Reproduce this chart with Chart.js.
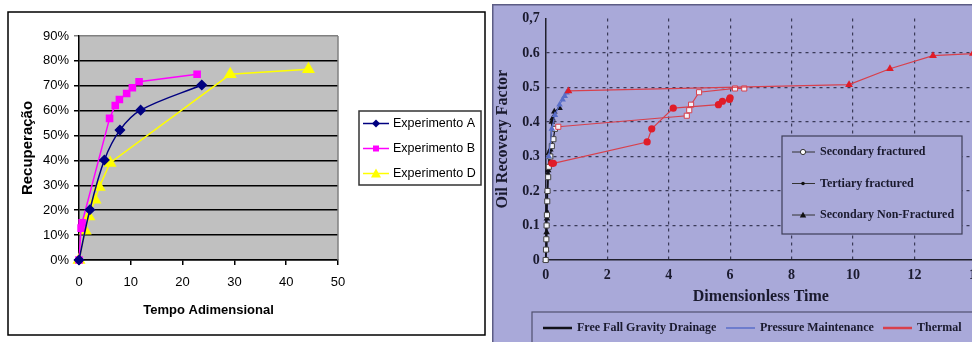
<!DOCTYPE html>
<html>
<head>
<meta charset="utf-8">
<script src="https://cdn.jsdelivr.net/npm/chart.js@4.4.1/dist/chart.umd.min.js"></script>
<style>
  html, body { margin: 0; padding: 0; background: #fff; overflow: hidden; width: 972px; height: 342px; }
  #left { position: absolute; left: 0; top: 0; }
  #right { position: absolute; left: 492px; top: 4px; }
</style>
</head>
<body>
<canvas id="left" width="490" height="342"></canvas>
<canvas id="right" width="500" height="338"></canvas>
<script>
// ---- left chart data (Tempo Adimensional vs Recuperação %) ----
const expA_x = [0, 2.1, 4.9, 7.9, 11.9, 23.7];
const expA_y = [0, 20.2, 40.2, 52.2, 60.2, 70.3];
const expB_x = [0, 0.4, 0.6, 5.9, 7.0, 7.8, 9.2, 10.3, 11.6, 22.8];
const expB_y = [0, 12.8, 15, 56.9, 62.1, 64.5, 66.9, 69.2, 71.6, 74.6];
const expD_x = [0, 1.2, 1.9, 3.1, 3.9, 6.0, 29.2, 44.3];
const expD_y = [0, 11.8, 17.5, 24.2, 29.3, 39, 74.6, 76.6];
const leftLabels = ["Experimento A", "Experimento B", "Experimento D"];

// ---- right chart data (Dimensionless Time vs Oil Recovery Factor) ----
// Free Fall Gravity Drainage
const ffgdSecFrac_x = [0, 0.01, 0.02, 0.03, 0.04, 0.05, 0.06, 0.08, 0.1, 0.15, 0.2, 0.25, 0.3];
const ffgdSecFrac_y = [0, 0.03, 0.06, 0.1, 0.13, 0.17, 0.2, 0.24, 0.27, 0.3, 0.33, 0.35, 0.38];
const ffgdTerFrac_x = [0, 0.01, 0.02, 0.03, 0.04, 0.05, 0.07, 0.1];
const ffgdTerFrac_y = [0, 0.03, 0.06, 0.1, 0.14, 0.2, 0.25, 0.27];
const ffgdSecNon_x = [0, 0.02, 0.03, 0.04, 0.05, 0.08, 0.1, 0.15, 0.2, 0.22, 0.28, 0.45];
const ffgdSecNon_y = [0, 0.03, 0.08, 0.12, 0.2, 0.26, 0.31, 0.32, 0.4, 0.41, 0.43, 0.44];
// Pressure Maintenance
const pmSecNon_x = [0.1, 0.2, 0.3, 0.45, 0.55, 0.62, 0.68, 0.74];
const pmSecNon_y = [0.3, 0.38, 0.42, 0.45, 0.465, 0.475, 0.485, 0.49];
// Thermal
const thSecFrac_x = [0.41, 4.59, 4.67, 4.73, 4.99, 6.16, 6.46];
const thSecFrac_y = [0.386, 0.418, 0.434, 0.45, 0.486, 0.497, 0.497];
const thTerFrac_x = [0.2, 0.25, 3.3, 3.45, 4.15, 5.62, 5.75, 5.98, 6.0];
const thTerFrac_y = [0.28, 0.28, 0.342, 0.38, 0.44, 0.45, 0.46, 0.465, 0.47];
const thSecNon_x = [0.74, 9.87, 11.2, 12.6, 13.9, 15];
const thSecNon_y = [0.49, 0.508, 0.554, 0.592, 0.598, 0.6];
const typeLabels = ["Secondary fractured", "Tertiary fractured", "Secondary Non-Fractured"];
const methodLabels = ["Free Fall Gravity Drainage", "Pressure Maintenance", "Thermal"];

function pts(xs, ys) {
  return xs.map((x, i) => ({ x: x, y: ys[i] }));
}

// small marker drawer for the hand drawn legends
function marker(ctx, style, x, y, r, fill, stroke) {
  ctx.beginPath();
  if (style === "diamond") {
    ctx.moveTo(x - r, y); ctx.lineTo(x, y - r); ctx.lineTo(x + r, y); ctx.lineTo(x, y + r);
  } else if (style === "square") {
    ctx.rect(x - r, y - r, 2 * r, 2 * r);
  } else if (style === "triangle") {
    ctx.moveTo(x, y - r); ctx.lineTo(x + r, y + r * 0.8); ctx.lineTo(x - r, y + r * 0.8);
  } else {
    ctx.arc(x, y, r, 0, Math.PI * 2);
  }
  ctx.closePath();
  ctx.fillStyle = fill;
  ctx.fill();
  if (stroke) { ctx.strokeStyle = stroke; ctx.lineWidth = 1; ctx.stroke(); }
}

// ---------------- LEFT CHART ----------------
const leftColors = ["#000080", "#FF00FF", "#FFFF00"];
const leftDecor = {
  id: "leftDecor",
  beforeDraw(chart) {
    const ctx = chart.ctx, a = chart.chartArea;
    ctx.save();
    ctx.fillStyle = "#fff";
    ctx.fillRect(0, 0, chart.width, chart.height);
    ctx.strokeStyle = "#000";
    ctx.lineWidth = 1.5;
    ctx.strokeRect(8, 12, 477, 323);
    ctx.fillStyle = "#C0C0C0";
    ctx.fillRect(a.left, a.top, a.right - a.left, a.bottom - a.top);
    ctx.restore();
  },
  afterDraw(chart) {
    const ctx = chart.ctx, a = chart.chartArea;
    ctx.save();
    // plot border right side
    ctx.strokeStyle = "#808080";
    ctx.lineWidth = 1.5;
    ctx.beginPath();
    ctx.moveTo(a.right, a.top); ctx.lineTo(a.right, a.bottom);
    ctx.stroke();
    // legend
    ctx.fillStyle = "#fff";
    ctx.fillRect(359, 111, 122, 74);
    ctx.strokeStyle = "#333";
    ctx.strokeRect(359, 111, 122, 74);
    const styles = ["diamond", "square", "triangle"];
    const sizes = [4, 3, 5];
    leftLabels.forEach((lab, i) => {
      const y = 123.5 + i * 25;
      ctx.strokeStyle = leftColors[i];
      ctx.lineWidth = 1.5;
      ctx.beginPath(); ctx.moveTo(363, y); ctx.lineTo(389, y); ctx.stroke();
      marker(ctx, styles[i], 376, y, sizes[i], leftColors[i]);
      ctx.fillStyle = "#000";
      ctx.font = "12.5px 'Liberation Sans', Arial, sans-serif";
      ctx.textBaseline = "middle";
      ctx.fillText(lab, 393, y);
    });
    ctx.restore();
  }
};

new Chart(document.getElementById("left"), {
  type: "scatter",
  data: {
    datasets: [
      { label: leftLabels[0], data: pts(expA_x, expA_y), showLine: true, tension: 0.35,
        borderColor: leftColors[0], backgroundColor: leftColors[0], borderWidth: 1.5,
        pointStyle: "rectRot", pointRadius: 4.5, clip: false },
      { label: leftLabels[1], data: pts(expB_x, expB_y), showLine: true,
        borderColor: leftColors[1], backgroundColor: leftColors[1], borderWidth: 1.5,
        pointStyle: "rect", pointRadius: 4.3, clip: false },
      { label: leftLabels[2], data: pts(expD_x, expD_y), showLine: true,
        borderColor: leftColors[2], backgroundColor: leftColors[2], borderWidth: 1.5,
        pointStyle: "triangle", pointRadius: 6, clip: false }
    ]
  },
  options: {
    responsive: false,
    animation: false,
    layout: { padding: { left: 0, top: 36, right: 152, bottom: 0 } },
    plugins: { legend: { display: false }, tooltip: { enabled: false } },
    scales: {
      x: {
        type: "linear", min: 0, max: 50,
        ticks: { stepSize: 10, color: "#000", padding: 10,
                 font: { family: "'Liberation Sans', Arial, sans-serif", size: 13 } },
        grid: { drawOnChartArea: false, tickLength: 5, color: "#000", lineWidth: 1.5 },
        border: { color: "#000", width: 1.5 },
        title: { display: true, text: "Tempo Adimensional", color: "#000",
                 font: { family: "'Liberation Sans', Arial, sans-serif", size: 13, weight: "bold" },
                 padding: { top: 0, bottom: 24 } },
        afterFit: s => { s.height = 82; }
      },
      y: {
        min: 0, max: 90,
        ticks: { stepSize: 10, color: "#000", padding: 5, callback: v => v + "%",
                 font: { family: "'Liberation Sans', Arial, sans-serif", size: 13 } },
        grid: { tickLength: 5, lineWidth: 1.5,
                color: c => (c.tick && c.tick.value === 90 ? "#808080" : "#000") },
        border: { color: "#000", width: 1.5 },
        title: { display: true, text: "Recuperação", color: "#000",
                 font: { family: "'Liberation Sans', Arial, sans-serif", size: 15, weight: "bold" },
                 padding: { top: 19, bottom: 0 } },
        afterFit: s => { s.width = 79; }
      }
    }
  },
  plugins: [leftDecor]
});

// ---------------- RIGHT CHART ----------------
const black = "#111118", blue = "#5a6ec8", red = "#d8404c", redMark = "#e01c28";
const serif = "'Liberation Serif', 'Times New Roman', serif";
const textCol = "#1a1a2e";
const lavender = "#a9a9d9";

const rightDecor = {
  id: "rightDecor",
  beforeDraw(chart) {
    const ctx = chart.ctx;
    ctx.save();
    ctx.fillStyle = lavender;
    ctx.fillRect(0, 0, chart.width, chart.height);
    ctx.strokeStyle = "#5c5c84";
    ctx.lineWidth = 1.5;
    ctx.beginPath();
    ctx.moveTo(0.75, chart.height); ctx.lineTo(0.75, 0.75); ctx.lineTo(chart.width, 0.75);
    ctx.stroke();
    ctx.restore();
  },
  afterDraw(chart) {
    const ctx = chart.ctx;
    ctx.save();
    // marker-type legend inside the plot
    ctx.fillStyle = lavender;
    ctx.fillRect(290, 132, 180, 98);
    ctx.strokeStyle = "#3e3e58";
    ctx.lineWidth = 1.2;
    ctx.strokeRect(290, 132, 180, 98);
    ctx.font = "bold 12px " + serif;
    ctx.textBaseline = "middle";
    typeLabels.forEach((lab, i) => {
      const y = 148 + i * 31.5;
      ctx.strokeStyle = "#333";
      ctx.lineWidth = 1;
      ctx.beginPath(); ctx.moveTo(300, y); ctx.lineTo(323, y); ctx.stroke();
      if (i === 0) marker(ctx, "circle", 311, y, 2.6, "#fff", "#333");
      else if (i === 1) marker(ctx, "circle", 311, y, 1.8, "#111");
      else marker(ctx, "triangle", 311, y, 3.2, "#111");
      ctx.fillStyle = textCol;
      ctx.fillText(lab, 328, y);
    });
    // colour legend below the plot
    ctx.strokeStyle = "#50506e";
    ctx.lineWidth = 1.2;
    ctx.strokeRect(40, 308, chart.width, 60);
    const cols = [black, blue, red];
    const lx = [51, 234, 391];
    methodLabels.forEach((lab, i) => {
      const y = 324;
      ctx.strokeStyle = cols[i];
      ctx.lineWidth = i === 1 ? 1.5 : 2.5;
      ctx.beginPath(); ctx.moveTo(lx[i], y); ctx.lineTo(lx[i] + 29, y); ctx.stroke();
      ctx.fillStyle = textCol;
      ctx.fillText(lab, lx[i] + 34, y);
    });
    ctx.restore();
  }
};

function series(xs, ys, color, type) {
  const d = { data: pts(xs, ys), showLine: true, borderColor: color, borderWidth: 1.2,
              clip: { left: 10, top: 10, right: 0, bottom: 10 } };
  if (type === "sf") {
    d.pointStyle = "rect"; d.pointRadius = 3.6; d.pointBackgroundColor = "#f4f4fa";
    d.pointBorderColor = color === black ? "#444" : color; d.pointBorderWidth = 1;
  } else if (type === "tf") {
    d.pointStyle = "circle"; d.pointRadius = color === red ? 3.6 : 2;
    d.pointBackgroundColor = color === red ? redMark : color; d.pointBorderWidth = 0;
  } else {
    d.pointStyle = "triangle"; d.pointRadius = color === red ? 4.5 : 3.8;
    d.pointBackgroundColor = color === red ? redMark : color; d.pointBorderWidth = 0;
  }
  return d;
}

new Chart(document.getElementById("right"), {
  type: "scatter",
  data: {
    datasets: [
      series(thSecNon_x, thSecNon_y, red, "snf"),
      series(thTerFrac_x, thTerFrac_y, red, "tf"),
      series(thSecFrac_x, thSecFrac_y, red, "sf"),
      series(pmSecNon_x, pmSecNon_y, blue, "snf"),
      series(ffgdSecFrac_x, ffgdSecFrac_y, black, "sf"),
      series(ffgdTerFrac_x, ffgdTerFrac_y, black, "tf"),
      series(ffgdSecNon_x, ffgdSecNon_y, black, "snf")
    ]
  },
  options: {
    responsive: false,
    animation: false,
    layout: { padding: { left: 0, top: 11, right: 16, bottom: 0 } },
    plugins: { legend: { display: false }, tooltip: { enabled: false } },
    scales: {
      x: {
        type: "linear", min: 0, max: 14,
        ticks: { stepSize: 2, color: textCol, padding: 7,
                 font: { family: serif, size: 14, weight: "bold" } },
        grid: { drawTicks: false, lineWidth: 1.2,
                color: c => (c.tick && c.tick.value === 0 ? "rgba(0,0,0,0)" : "#3a3a58") },
        border: { color: "#20202c", width: 1.5, dash: [3, 4] },
        title: { display: true, text: "Dimensionless Time", color: textCol,
                 font: { family: serif, size: 16, weight: "bold" },
                 padding: { top: 0, bottom: 36 } },
        afterFit: s => { s.height = 82; }
      },
      y: {
        min: 0, max: 0.7,
        ticks: { stepSize: 0.1, color: textCol, padding: 6,
                 font: { family: serif, size: 14, weight: "bold" },
                 callback: v => {
                   const r = Math.round(v * 10) / 10;
                   if (r === 0) return "0";
                   if (r === 0.7) return "0,7";
                   return r.toFixed(1);
                 } },
        grid: { drawTicks: false, lineWidth: 1.2,
                color: c => (c.tick && (c.tick.value === 0 || Math.round(c.tick.value * 10) === 7)
                             ? "rgba(0,0,0,0)" : "#3a3a58") },
        border: { color: "#20202c", width: 1.5, dash: [3, 4] },
        title: { display: true, text: "Oil Recovery Factor", color: textCol,
                 font: { family: serif, size: 16, weight: "bold" },
                 padding: { top: 1, bottom: 0 } },
        afterFit: s => { s.width = 53.7; }
      }
    }
  },
  plugins: [rightDecor]
});
</script>
</body>
</html>
